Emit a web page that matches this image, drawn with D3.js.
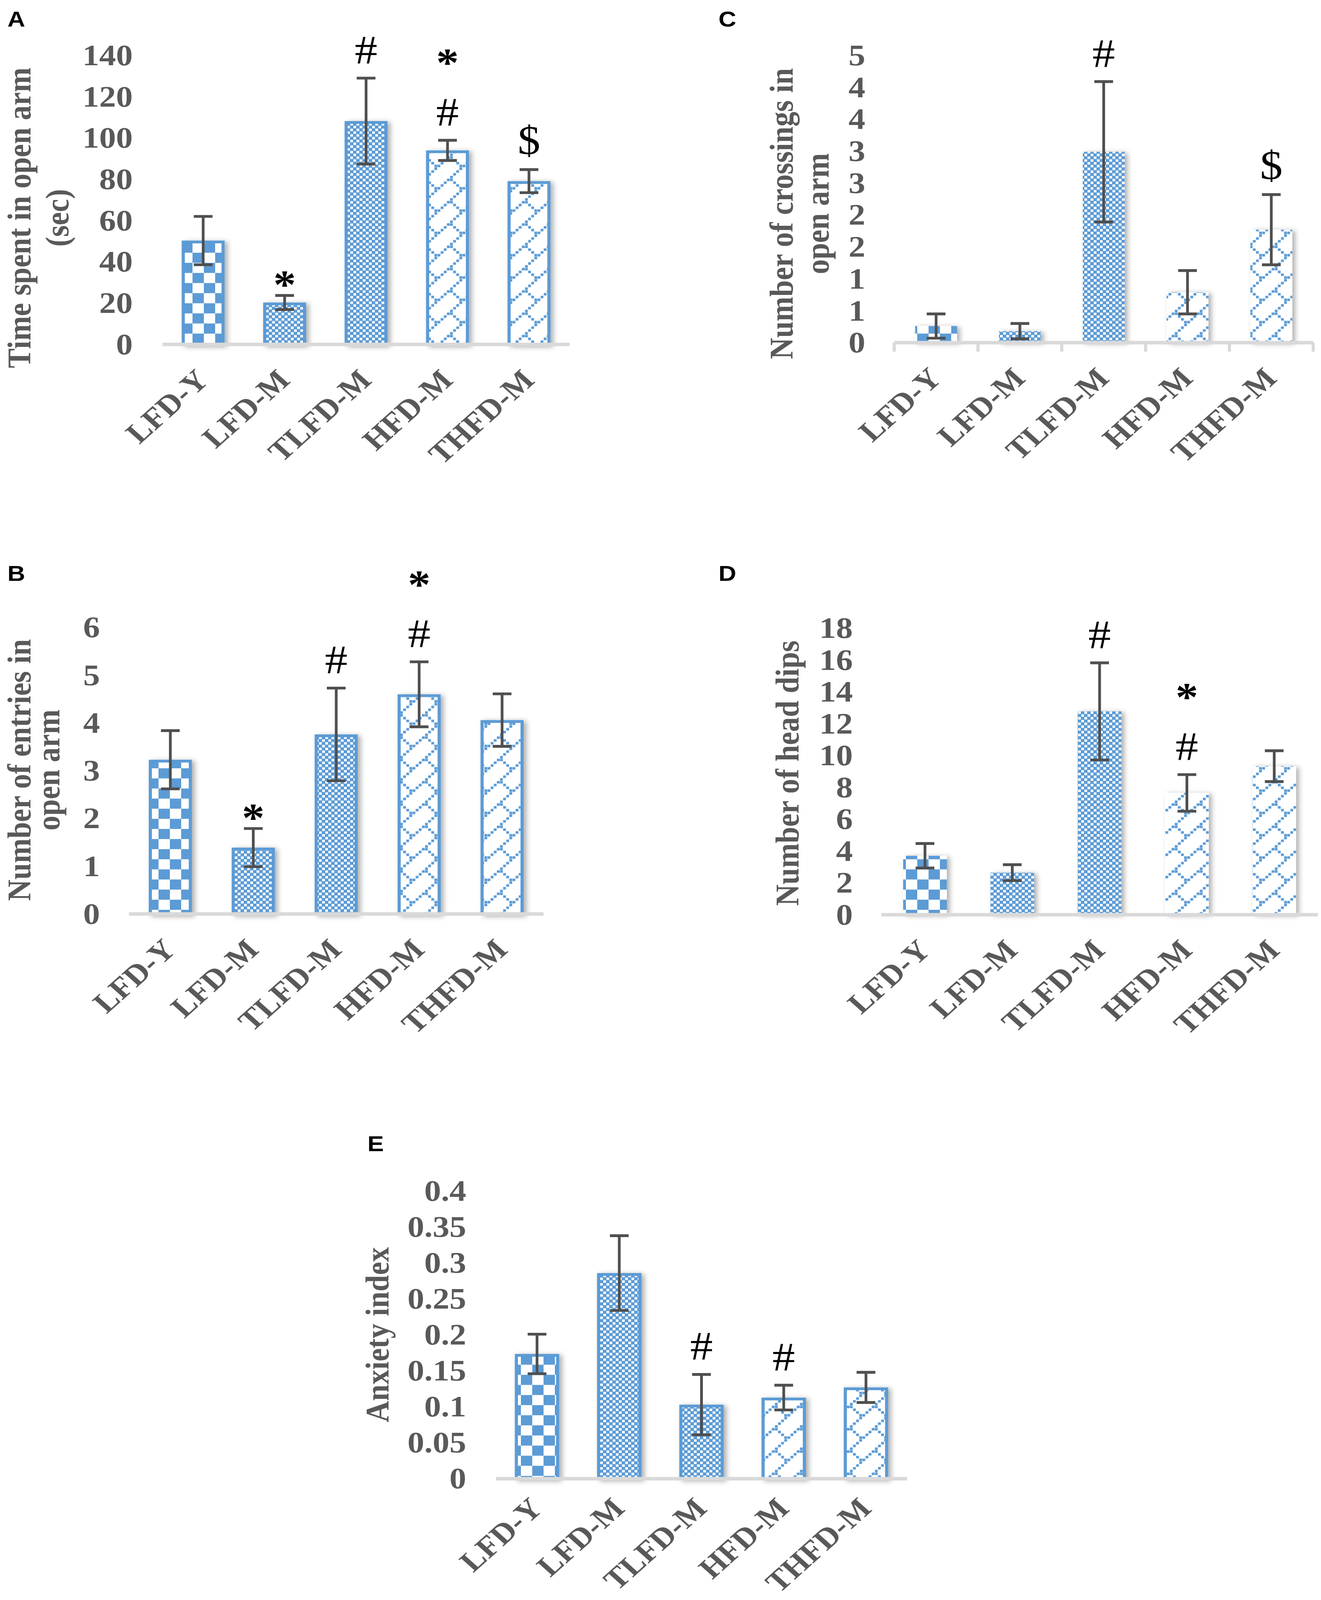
<!DOCTYPE html>
<html>
<head>
<meta charset="utf-8">
<script src="https://cdn.jsdelivr.net/npm/d3@7"></script>
<style>
  body { margin: 0; background: #fff; overflow: hidden; }
</style>
</head>
<body>
<div id="main"></div>
<script>
"use strict";

// ---- data ----
const groups = ["LFD-Y", "LFD-M", "TLFD-M", "HFD-M", "THFD-M"];
const groupFills = ["bigChecker", "smallChecker", "smallChecker", "shingle", "shingle"];

// A: time spent in open arm (sec)
const timeMeans = [50.3, 20.3, 108.2, 94.0, 79.1];
const timeErrors = [11.7, 3.4, 20.8, 4.9, 5.6];
const timeTicks = [0, 20, 40, 60, 80, 100, 120, 140];
const timeTickLabels = ["0", "20", "40", "60", "80", "100", "120", "140"];
const timeMarks = ["", "*", "#", "*#", "$"];

// B: number of entries in open arm
const entryMeans = [3.23, 1.39, 3.76, 4.60, 4.06];
const entryErrors = [0.61, 0.40, 0.97, 0.68, 0.55];
const entryTicks = [0, 1, 2, 3, 4, 5, 6];
const entryTickLabels = ["0", "1", "2", "3", "4", "5", "6"];
const entryMarks = ["", "*", "#", "*#", ""];

// C: number of crossings in open arm (labels rounded to integers as in the original)
const crossMeans = [0.26, 0.18, 2.99, 0.79, 1.77];
const crossErrors = [0.19, 0.12, 1.10, 0.34, 0.55];
const crossTicks = [0, 0.5, 1, 1.5, 2, 2.5, 3, 3.5, 4, 4.5];
const crossTickLabels = ["0", "1", "1", "2", "2", "3", "3", "4", "4", "5"];
const crossMarks = ["", "", "#", "", "$"];

// D: number of head dips
const dipMeans = [3.70, 2.64, 12.77, 7.65, 9.33];
const dipErrors = [0.77, 0.50, 3.05, 1.15, 0.97];
const dipTicks = [0, 2, 4, 6, 8, 10, 12, 14, 16, 18];
const dipTickLabels = ["0", "2", "4", "6", "8", "10", "12", "14", "16", "18"];
const dipMarks = ["", "", "#", "*#", ""];

// E: anxiety index
const anxMeans = [0.1735, 0.286, 0.103, 0.1128, 0.127];
const anxErrors = [0.0275, 0.052, 0.042, 0.0172, 0.021];
const anxTicks = [0, 0.05, 0.1, 0.15, 0.2, 0.25, 0.3, 0.35, 0.4];
const anxTickLabels = ["0", "0.05", "0.1", "0.15", "0.2", "0.25", "0.3", "0.35", "0.4"];
const anxMarks = ["", "", "#", "#", ""];

// ---- layout ----
const W = 3383, H = 4590;
const BLUE = "#5B9BD5", GREY_TXT = "#595959", AXIS = "#D9D9D9", ERR = "#4F4F4F";
const SERIF = "'Liberation Serif', 'Times New Roman', serif";

const panels = [
  { letter: "A", lx: 19, ly: 76, means: timeMeans, errs: timeErrors, ticks: timeTicks, tickLabels: timeTickLabels,
    marks: timeMarks, title: ["Time spent in open arm", "(sec)"], titleX: [78, 175], titleY: 625,
    x0: 416, x1: 1459, yBase: 988, yTop: 159, pad: 0.473, border: true, tickX: 340, catTicks: false, labelDy: 107 },
  { letter: "B", lx: 19, ly: 1666, means: entryMeans, errs: entryErrors, ticks: entryTicks, tickLabels: entryTickLabels,
    marks: entryMarks, title: ["Number of entries in", "open arm"], titleX: [78, 152], titleY: 2209,
    x0: 330, x1: 1392, yBase: 2622, yTop: 1800, pad: 0.48, border: true, tickX: 256, catTicks: false, labelDy: 107 },
  { letter: "C", lx: 1840, ly: 76, means: crossMeans, errs: crossErrors, ticks: crossTicks, tickLabels: crossTickLabels,
    marks: crossMarks, title: ["Number of crossings in", "open arm"], titleX: [2030, 2122], titleY: 613,
    x0: 2290, x1: 3363, yBase: 983, yTop: 159, pad: 0.5, border: false, tickX: 2216, catTicks: true, labelDy: 107 },
  { letter: "D", lx: 1840, ly: 1666, means: dipMeans, errs: dipErrors, ticks: dipTicks, tickLabels: dipTickLabels,
    marks: dipMarks, title: ["Number of head dips"], titleX: [2045], titleY: 2218,
    x0: 2257, x1: 3375, yBase: 2624, yTop: 1802, pad: 0.5, border: false, tickX: 2184, catTicks: false, labelDy: 107 },
  { letter: "E", lx: 941, ly: 3302, means: anxMeans, errs: anxErrors, ticks: anxTicks, tickLabels: anxTickLabels,
    marks: anxMarks, title: ["Anxiety index"], titleX: [995], titleY: 3829,
    x0: 1270, x1: 2323, yBase: 4242, yTop: 3417, pad: 0.46, border: true, tickX: 1194, catTicks: false, labelDy: 90 }
];

// the window may be shorter than the figure: fit the whole figure into it
const viewW = Math.min(W, window.innerWidth || W);
const viewH = Math.min(H, window.innerHeight || H);

const svg = d3.select("#main").append("svg")
  .attr("width", viewW).attr("height", viewH)
  .attr("viewBox", `0 0 ${W} ${H}`)
  .attr("preserveAspectRatio", "none")
  .style("display", "block");
svg.append("rect").attr("width", W).attr("height", H).attr("fill", "#fff");

// ---- fill patterns ----
const defs = svg.append("defs");

const big = defs.append("pattern").attr("id", "bigChecker")
  .attr("patternUnits", "userSpaceOnUse").attr("width", 58).attr("height", 58);
big.append("rect").attr("width", 58).attr("height", 58).attr("fill", "#fff");
big.append("rect").attr("width", 29).attr("height", 29).attr("fill", BLUE);
big.append("rect").attr("x", 29).attr("y", 29).attr("width", 29).attr("height", 29).attr("fill", BLUE);

const small = defs.append("pattern").attr("id", "smallChecker")
  .attr("patternUnits", "userSpaceOnUse").attr("width", 16).attr("height", 16);
small.append("rect").attr("width", 16).attr("height", 16).attr("fill", BLUE);
small.append("rect").attr("x", 1).attr("y", 1).attr("width", 7).attr("height", 7).attr("fill", "#fff");
small.append("rect").attr("x", 9).attr("y", 9).attr("width", 7).attr("height", 7).attr("fill", "#fff");

const sh = defs.append("pattern").attr("id", "shingle")
  .attr("patternUnits", "userSpaceOnUse").attr("width", 64).attr("height", 64);
sh.append("rect").attr("width", 64).attr("height", 64).attr("fill", "#fff");
const shCells = d3.range(8).map(i => [i, 7 - i]).concat(d3.range(4).map(i => [i, i]));
sh.selectAll(".px").data(shCells).join("rect")
  .attr("class", "px")
  .attr("x", d => d[0] * 8 + 0.5).attr("y", d => d[1] * 8 + 0.5)
  .attr("width", 7.2).attr("height", 7.2).attr("fill", BLUE);

const shadow = defs.append("filter").attr("id", "shadow")
  .attr("x", "-40%").attr("y", "-20%").attr("width", "180%").attr("height", "140%");
shadow.append("feDropShadow").attr("dx", 7).attr("dy", 3).attr("stdDeviation", 7)
  .attr("flood-color", "#000").attr("flood-opacity", 0.33);

// ---- panels ----
panels.forEach(p => {
  const g = svg.append("g");

  const x = d3.scaleBand().domain(groups).range([p.x0, p.x1])
    .paddingInner(p.pad).paddingOuter(p.pad / 2);
  const y = d3.scaleLinear().domain([0, p.ticks[p.ticks.length - 1]]).range([p.yBase, p.yTop]);
  const rows = groups.map((k, i) => ({ k, m: p.means[i], e: p.errs[i], fill: groupFills[i], mark: p.marks[i] }));

  // panel letter
  g.append("text").attr("x", p.lx).attr("y", p.ly)
    .attr("font-family", "'Liberation Sans', Arial, sans-serif").attr("font-weight", "bold")
    .attr("font-size", 63).attr("fill", "#000").text(p.letter);

  // y axis labels
  const ya = g.append("g").attr("transform", `translate(${p.tickX},0)`)
    .call(d3.axisLeft(y).tickValues(p.ticks).tickFormat((d, i) => p.tickLabels[i]).tickSize(0).tickPadding(0));
  ya.select(".domain").remove();
  ya.selectAll("text").attr("font-family", SERIF).attr("font-weight", "bold")
    .attr("font-size", 86).attr("fill", GREY_TXT);

  // y title
  p.title.forEach((t, i) => {
    g.append("text")
      .attr("transform", `translate(${p.titleX[i]},${p.titleY}) rotate(-90)`)
      .attr("text-anchor", "middle")
      .attr("font-family", SERIF).attr("font-weight", "bold")
      .attr("font-size", 85).attr("fill", GREY_TXT).text(t);
  });

  // bars
  const sw = p.border ? 8 : 0;
  g.append("g").attr("filter", "url(#shadow)")
    .selectAll("rect").data(rows).join("rect")
    .attr("x", d => x(d.k) + sw / 2)
    .attr("y", d => y(d.m) + sw / 2)
    .attr("width", x.bandwidth() - sw)
    .attr("height", d => y(0) - y(d.m) - sw / 2)
    .attr("fill", d => `url(#${d.fill})`)
    .attr("stroke", p.border ? BLUE : "none")
    .attr("stroke-width", sw);

  // axis line
  g.append("line").attr("x1", p.x0).attr("x2", p.x1)
    .attr("y1", y(0)).attr("y2", y(0))
    .attr("stroke", AXIS).attr("stroke-width", 10);
  if (p.catTicks) {
    g.selectAll(".ctick").data(d3.range(groups.length + 1)).join("line")
      .attr("class", "ctick")
      .attr("x1", i => p.x0 + i * x.step()).attr("x2", i => p.x0 + i * x.step())
      .attr("y1", y(0)).attr("y2", y(0) + 26)
      .attr("stroke", AXIS).attr("stroke-width", 8);
  }

  // error bars
  const eb = g.append("g").attr("stroke", ERR).attr("stroke-width", 7);
  rows.forEach(d => {
    const cx = x(d.k) + x.bandwidth() / 2;
    eb.append("line").attr("x1", cx).attr("x2", cx).attr("y1", y(d.m + d.e)).attr("y2", y(d.m - d.e));
    [d.m + d.e, d.m - d.e].forEach(v => {
      eb.append("line").attr("x1", cx - 24).attr("x2", cx + 24).attr("y1", y(v)).attr("y2", y(v)).attr("stroke-width", 8);
    });
  });

  // significance marks, stacked above the error bar
  const centreShift = { "#": 0.338, "$": 0.32, "*": 0.48 };
  rows.forEach(d => {
    const syms = d.mark.split("").reverse();
    syms.forEach((s, k) => {
      const gap = k === 0 ? (s === "*" ? 48 : 82) : 82 + 157 * k;
      const cy = y(d.m + d.e) - gap;
      g.append("text")
        .attr("x", x(d.k) + x.bandwidth() / 2).attr("y", cy + centreShift[s] * 116)
        .attr("text-anchor", "middle")
        .attr("font-family", SERIF).attr("font-weight", s === "*" ? "bold" : "normal")
        .attr("font-size", 116).attr("fill", "#000").text(s);
    });
  });

  // category labels, rotated 45 degrees, ending just right of the bar centre
  const xa = g.append("g").attr("transform", `translate(0,${y(0)})`)
    .call(d3.axisBottom(x).tickSize(0));
  xa.select(".domain").remove();
  xa.selectAll("text")
    .attr("dy", null).attr("x", 18).attr("y", p.labelDy)
    .attr("transform", `rotate(-45,18,${p.labelDy})`)
    .attr("text-anchor", "end")
    .attr("font-family", SERIF).attr("font-weight", "bold")
    .attr("font-size", 84).attr("fill", GREY_TXT);
});
</script>
</body>
</html>
